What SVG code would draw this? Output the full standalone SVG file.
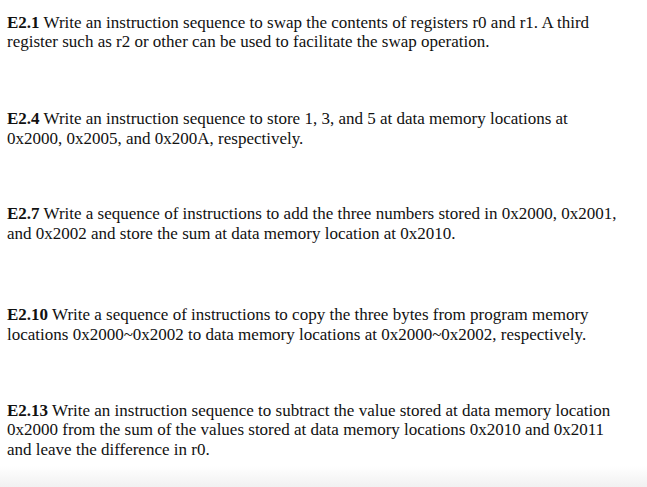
<svg xmlns="http://www.w3.org/2000/svg" width="647" height="487" viewBox="0 0 647 487">
<defs>
<linearGradient id="fade" x1="0" y1="0" x2="0" y2="1">
<stop offset="0" stop-color="#ffffff"/>
<stop offset="1" stop-color="#f1f1f1"/>
</linearGradient>
<style>
text{font-family:"Liberation Serif","Times New Roman",serif;font-size:17px;fill:#111;}
.b{font-weight:bold;}
</style>
</defs>
<rect width="647" height="487" fill="#fff"/>
<rect x="0" y="466" width="647" height="21" fill="url(#fade)"/>
<g id="e2-1">
<text x="7" y="27.5"><tspan class="b">E2.1</tspan> Write an instruction sequence to swap the contents of registers r0 and r1. A third</text>
<text x="7" y="47">register such as r2 or other can be used to facilitate the swap operation.</text>
</g>
<g id="e2-4">
<text x="7" y="124"><tspan class="b">E2.4</tspan> Write an instruction sequence to store 1, 3, and 5 at data memory locations at</text>
<text x="7" y="143.5">0x2000, 0x2005, and 0x200A, respectively.</text>
</g>
<g id="e2-7">
<text x="7" y="219"><tspan class="b">E2.7</tspan> Write a sequence of instructions to add the three numbers stored in 0x2000, 0x2001,</text>
<text x="7" y="238.5">and 0x2002 and store the sum at data memory location at 0x2010.</text>
</g>
<g id="e2-10">
<text x="7" y="320"><tspan class="b">E2.10</tspan> Write a sequence of instructions to copy the three bytes from program memory</text>
<text x="7" y="339.5">locations 0x2000~0x2002 to data memory locations at 0x2000~0x2002, respectively.</text>
</g>
<g id="e2-13">
<text x="7" y="415.5"><tspan class="b">E2.13</tspan> Write an instruction sequence to subtract the value stored at data memory location</text>
<text x="7" y="435">0x2000 from the sum of the values stored at data memory locations 0x2010 and 0x2011</text>
<text x="7" y="454.5">and leave the difference in r0.</text>
</g>
</svg>
